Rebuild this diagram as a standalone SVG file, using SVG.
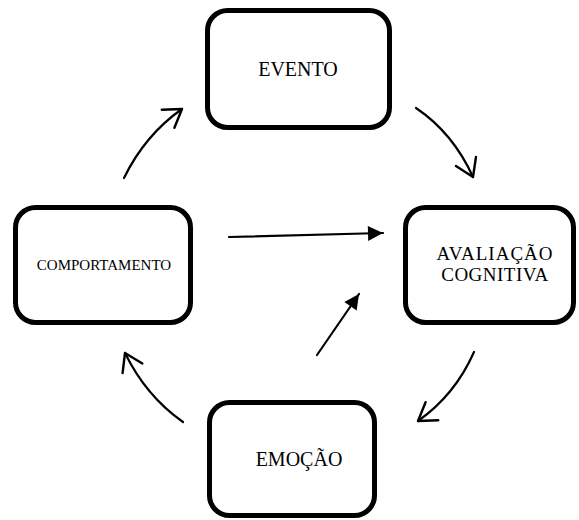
<svg xmlns="http://www.w3.org/2000/svg" width="579" height="520" viewBox="0 0 579 520">
<style>
.box{fill:#fff;stroke:#000;stroke-width:5}
.t{font-family:"Liberation Serif","Times New Roman",serif;fill:#000;text-anchor:middle}
.c{fill:none;stroke:#000;stroke-width:2.2;stroke-linecap:round}
</style>
<defs>
<marker id="open" markerUnits="userSpaceOnUse" markerWidth="30" markerHeight="30" viewBox="-20 -15 25 30" refX="0" refY="0" orient="auto">
<path d="M-17,-11 L0,0 L-17,11" fill="none" stroke="#000" stroke-width="2.4" stroke-linecap="round" stroke-linejoin="round"/>
</marker>
<marker id="solid" markerUnits="userSpaceOnUse" markerWidth="30" markerHeight="30" viewBox="-20 -15 25 30" refX="0" refY="0" orient="auto">
<path d="M0,0 L-15,-7.5 L-15,7.5 Z" fill="#000"/>
</marker>
</defs>
<rect width="579" height="520" fill="#fff"/>
<g id="evento">
<rect class="box" x="207.5" y="10.5" width="182" height="117" rx="20"/>
<text class="t" x="298" y="76" font-size="20">EVENTO</text>
</g>
<g id="avaliacao">
<rect class="box" x="405.5" y="207.5" width="168" height="115" rx="20"/>
<text class="t" x="495" y="260" font-size="19" letter-spacing="1">AVALIAÇÃO</text>
<text class="t" x="495" y="281" font-size="19" letter-spacing="0.5">COGNITIVA</text>
</g>
<g id="comportamento">
<rect class="box" x="15.5" y="207.5" width="175" height="115" rx="20"/>
<text class="t" x="104" y="270" font-size="15">COMPORTAMENTO</text>
</g>
<g id="emocao">
<rect class="box" x="209.5" y="402.5" width="165" height="113" rx="20"/>
<text class="t" x="299" y="466" font-size="20">EMOÇÃO</text>
</g>
<g id="connectors">
<path class="c" d="M124,178 Q145,135 182,109" marker-end="url(#open)"/>
<path class="c" d="M416,108 Q453,133 473,177" marker-end="url(#open)"/>
<path class="c" d="M474,352 Q455,395 418,421" marker-end="url(#open)"/>
<path class="c" d="M183,422 Q146,396 125,353" marker-end="url(#open)"/>
<path class="c" d="M229,237 L383,233" marker-end="url(#solid)"/>
<path class="c" d="M317,355 L359,294" marker-end="url(#solid)"/>
</g>
</svg>
